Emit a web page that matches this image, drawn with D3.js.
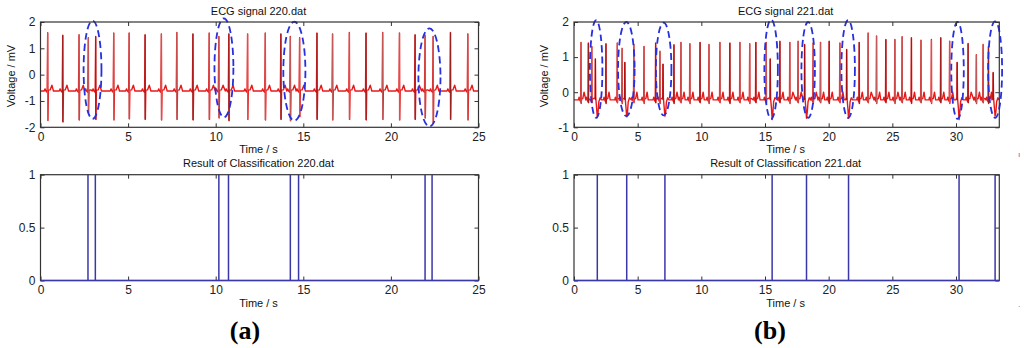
<!DOCTYPE html>
<html>
<head>
<meta charset="utf-8">
<script src="https://cdn.jsdelivr.net/npm/d3@7"></script>
<style>
  body { margin: 0; background: #fff; }
  svg { display: block; font-family: "Liberation Sans", Arial, sans-serif; }
</style>
</head>
<body>
<script>
// ---- record 220 ----
const timesA   = [0.41, 1.27, 2.20, 2.73, 3.15, 4.18, 5.06, 5.97, 6.90, 7.78, 8.70, 9.63, 10.18, 10.75, 11.82,
                  12.83, 13.72, 14.26, 14.79, 15.78, 16.67, 17.63, 18.58, 19.53, 20.49, 21.38, 21.95, 22.41, 23.40, 24.39];
const peakA    = [1.59, 1.50, 1.52, 1.40, 1.45, 1.58, 1.58, 1.52, 1.55, 1.60, 1.55, 1.58, 1.45, 1.55, 1.55,
                  1.58, 1.55, 1.45, 1.40, 1.58, 1.55, 1.60, 1.58, 1.60, 1.58, 1.52, 1.50, 1.45, 1.60, 1.55];
const troughA  = [-1.74, -1.80, -1.72, -1.45, -1.70, -1.72, -1.68, -1.70, -1.72, -1.70, -1.72, -1.70, -1.65, -1.75, -1.70,
                  -1.72, -1.70, -1.75, -1.60, -1.70, -1.72, -1.70, -1.72, -1.70, -1.72, -1.70, -1.65, -1.85, -1.70, -1.72];
const kindA    = timesA.map(() => "N");
const baseA    = -0.62;
const classA   = [2.71, 3.13, 10.18, 10.73, 14.26, 14.73, 21.95, 22.35];
// rings: centre (s), half width (s), top (mV), bottom (mV)
const ringsA   = [[2.97, 0.51, 2.05, -1.68], [10.47, 0.54, 2.14, -1.62], [14.49, 0.63, 2.01, -1.75], [22.2, 0.63, 1.76, -1.97]];

// ---- record 221 ----
const timesB   = [0.55, 1.13, 1.40, 1.83, 2.51, 3.40, 3.78, 4.14, 4.70, 5.50, 6.41, 6.75, 7.14, 7.85, 8.40, 9.10, 9.90,
                  10.60, 11.46, 12.24, 13.03, 13.80, 14.28, 15.10, 15.56, 16.17, 16.95, 17.60, 18.26, 18.78, 19.36,
                  20.04, 20.88, 21.56, 22.40, 23.10, 23.76, 24.49, 25.20, 25.77, 26.50, 27.25, 28.07, 28.80, 29.50,
                  30.24, 30.95, 31.60, 32.13, 32.55, 33.07];
const kindB    = ["N","N","N","V","N","N","N","V","N","N","N","N","V","N","N","N","N",
                  "N","N","N","N","N","N","N","V","N","N","N","V","N","N",
                  "N","N","V","N","N","N","N","N","N","N","N","N","N","N",
                  "V","N","N","N","N","V"];
const peakB    = [1.42, 1.40, 1.30, 0.95, 1.38, 1.40, 1.25, 0.85, 1.36, 1.30, 1.40, 1.17, 0.80, 1.35, 1.42, 1.38, 1.42,
                  1.36, 1.42, 1.40, 1.42, 1.38, 1.42, 1.42, 0.95, 1.45, 1.42, 1.45, 1.36, 1.40, 1.42,
                  1.45, 1.40, 1.22, 1.42, 1.69, 1.60, 1.50, 1.50, 1.58, 1.55, 1.48, 1.50, 1.55, 1.45,
                  0.85, 1.39, 1.07, 1.36, 1.30, 0.56];
const troughB  = [-0.32, -0.30, -0.30, -0.72, -0.32, -0.30, -0.32, -0.70, -0.30, -0.32, -0.30, -0.32, -0.68, -0.32, -0.30, -0.32, -0.30,
                  -0.32, -0.30, -0.32, -0.30, -0.32, -0.30, -0.32, -0.78, -0.30, -0.32, -0.30, -0.74, -0.32, -0.30,
                  -0.32, -0.30, -0.74, -0.32, -0.30, -0.32, -0.30, -0.32, -0.30, -0.32, -0.30, -0.32, -0.30, -0.32,
                  -0.78, -0.30, -0.32, -0.30, -0.32, -0.68];
const baseB    = -0.22;
const classB   = [1.83, 4.14, 7.14, 15.56, 18.26, 21.56, 30.24, 33.07];
const ringsB   = [[1.74, 0.49, 2.05, -0.73], [4.11, 0.65, 2.0, -0.68], [7.04, 0.61, 1.98, -0.66], [15.48, 0.53, 2.07, -0.76],
                  [18.39, 0.53, 2.0, -0.73], [21.53, 0.53, 2.05, -0.73], [30.12, 0.49, 2.0, -0.76], [33.07, 0.55, 2.02, -0.73]];

// beat morphology: [offset s, level above baseline] ("R"/"S" = that beat's peak/trough)
const normalShape = [[-0.2, 0], [-0.15, 0.08], [-0.1, 0], [-0.03, -0.05], [0, "R"], [0.015, "S"], [0.04, 0.03], [0.14, 0.04], [0.24, 0.22], [0.33, 0]];
const pvcShape    = [[-0.25, 0], [-0.17, 0.06], [-0.15, "R"], [-0.12, 0.05], [-0.05, -0.25], [0, "S"], [0.06, -0.35], [0.12, -0.05], [0.22, 0.06], [0.32, 0]];

const width = 1024, height = 348;
const svg = d3.select("body").append("svg").attr("width", width).attr("height", height);

const trace = (times, kinds, peaks, troughs, base, tEnd) => {
  const pts = [[0, base]];
  times.forEach((t, i) => {
    const lo = i ? (times[i - 1] + t) / 2 : 0;
    const hi = i < times.length - 1 ? (t + times[i + 1]) / 2 : tEnd;
    const shape = kinds[i] === "V" ? pvcShape : normalShape;
    shape.forEach(([dt, v]) => {
      const tt = t + dt;
      if (tt < lo || tt >= hi) return;
      pts.push([tt, v === "R" ? peaks[i] : v === "S" ? troughs[i] : base + v]);
    });
  });
  pts.push([tEnd, base]);
  return pts;
};

const drawAxes = (x, y, xticks, yticks) => {
  const [l, r] = x.range(), [b, t] = y.range();
  const fmt = d => String(d);
  const style = g => {
    g.select(".domain").remove();
    g.attr("font-size", 12).attr("font-family", null).attr("color", "#222");
    g.selectAll("line").attr("stroke", "#333");
  };
  svg.append("g").attr("transform", `translate(0,${b})`)
    .call(d3.axisBottom(x).tickValues(xticks).tickSize(-4).tickPadding(5).tickFormat(fmt)).call(style);
  svg.append("g").attr("transform", `translate(0,${t})`)
    .call(d3.axisTop(x).tickValues(xticks).tickSize(-4).tickFormat("")).call(style);
  svg.append("g").attr("transform", `translate(${l},0)`)
    .call(d3.axisLeft(y).tickValues(yticks).tickSize(-4).tickPadding(5).tickFormat(fmt)).call(style);
  svg.append("g").attr("transform", `translate(${r},0)`)
    .call(d3.axisRight(y).tickValues(yticks).tickSize(-4).tickFormat("")).call(style);
  svg.append("rect").attr("x", l).attr("y", t).attr("width", r - l).attr("height", b - t)
    .attr("fill", "none").attr("stroke", "#333").attr("stroke-width", 1.2);
};

const label = (txt, x, y, size = 11, extra = {}) => {
  const el = svg.append("text").attr("x", x).attr("y", y).attr("text-anchor", "middle")
    .attr("font-size", size).attr("fill", "#111").text(txt);
  Object.entries(extra).forEach(([k, v]) => el.attr(k, v));
  return el;
};

const panel = (cfg) => {
  const x = d3.scaleLinear().domain([0, cfg.tEnd]).range(cfg.xr);
  const yS = d3.scaleLinear().domain(cfg.yDom).range([127.3, 22]);
  const yC = d3.scaleLinear().domain([0, 1]).range([280.5, 174.7]);
  const cx = (cfg.xr[0] + cfg.xr[1]) / 2 - 1;

  // ECG signal
  const pts = trace(cfg.times, cfg.kinds, cfg.peaks, cfg.troughs, cfg.base, cfg.tEnd);
  svg.append("path").datum(pts)
    .attr("d", d3.line().x(d => x(d[0])).y(d => yS(d[1])))
    .attr("fill", "none").attr("stroke", "#e81818").attr("stroke-width", 1.4).attr("stroke-linejoin", "round");
  svg.append("g").selectAll("line").data(cfg.times).join("line")
    .attr("x1", (t, i) => x(cfg.kinds[i] === "V" ? t - 0.15 : t))
    .attr("x2", (t, i) => x(cfg.kinds[i] === "V" ? t - 0.15 : t))
    .attr("y1", (t, i) => yS(cfg.peaks[i]))
    .attr("y2", (t, i) => yS(cfg.kinds[i] === "V" ? cfg.base : cfg.troughs[i]))
    .attr("stroke", (t, i) => cfg.kinds[i] === "V" ? "#a01010" : i % 3 === 1 ? "#9a2020" : "#c25a5a")
    .attr("stroke-width", 1.2);

  // dashed rings round the flagged beats
  svg.append("g").selectAll("ellipse").data(cfg.rings).join("ellipse")
    .attr("cx", d => x(d[0]))
    .attr("rx", d => x(d[0] + d[1]) - x(d[0]))
    .attr("cy", d => (yS(d[2]) + yS(d[3])) / 2)
    .attr("ry", d => (yS(d[3]) - yS(d[2])) / 2)
    .attr("fill", "none").attr("stroke", "#2630e0").attr("stroke-width", 1.8).attr("stroke-dasharray", "7,4");

  drawAxes(x, yS, cfg.xticks, cfg.yticks);

  // classification result
  const steps = [[0, 0]];
  cfg.cls.forEach(t => steps.push([t, 0], [t, 1], [t, 0]));
  steps.push([cfg.tEnd, 0]);
  drawAxes(x, yC, cfg.xticks, [0, 0.5, 1]);
  svg.append("path").datum(steps)
    .attr("d", d3.line().x(d => x(d[0])).y(d => yC(d[1])))
    .attr("fill", "none").attr("stroke", "#3a38a8").attr("stroke-width", 1.5);

  label(`ECG signal ${cfg.name}`, cx, 15);
  label("Time / s", cx, 153);
  label(`Result of Classification ${cfg.name}`, cx, 167);
  label("Time / s", cx, 307);
  label("Voltage / mV", 0, 0, 11, { transform: `translate(${cfg.xr[0] - 26},76) rotate(-90)` });
  label(cfg.tag, cfg.tagX, 339, 26, { "font-family": "Liberation Serif, Times New Roman, serif", "font-weight": "bold", fill: "#000" })
    .text(null).call(t => {
      t.append("tspan").text("(");
      t.append("tspan").text(cfg.tag.slice(1, 2));
      t.append("tspan").text(")");
    });
};

panel({ name: "220.dat", tag: "(a)", tagX: 245, tEnd: 25, xr: [40.5, 478.5], yDom: [-2, 2],
        xticks: [0, 5, 10, 15, 20, 25], yticks: [-2, -1, 0, 1, 2],
        times: timesA, kinds: kindA, peaks: peakA, troughs: troughA, base: baseA, cls: classA, rings: ringsA });
panel({ name: "221.dat", tag: "(b)", tagX: 770, tEnd: 33.4, xr: [574, 999.3], yDom: [-1, 2],
        xticks: [0, 5, 10, 15, 20, 25, 30], yticks: [-1, 0, 1, 2],
        times: timesB, kinds: kindB, peaks: peakB, troughs: troughB, base: baseB, cls: classB, rings: ringsB });

// stray scan specks at the right margin
svg.append("text").attr("x", 1019).attr("y", 157).attr("font-size", 8).attr("fill", "#5a6aa8").attr("text-anchor", "middle").text("ı");
svg.append("text").attr("x", 1019).attr("y", 307).attr("font-size", 8).attr("fill", "#5a6aa8").attr("text-anchor", "middle").text(".");
</script>
</body>
</html>
